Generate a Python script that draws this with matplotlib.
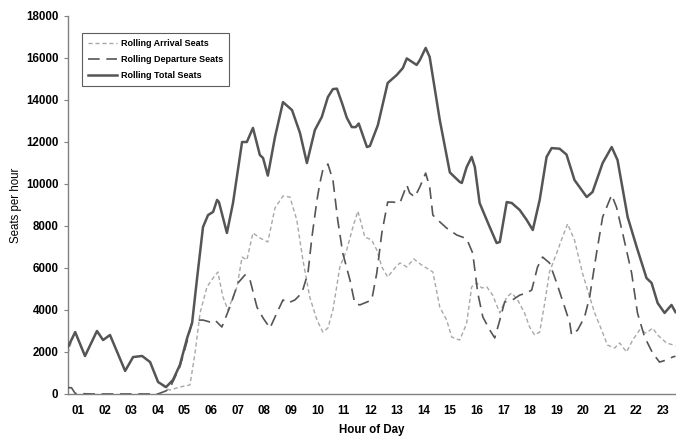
import matplotlib
matplotlib.use("Agg")
import matplotlib.pyplot as plt

plt.rcParams['font.family'] = ['Liberation Sans', 'DejaVu Sans']

# Hour positions (tick label "01" centred at 1, ... "23" at 23)
hour_labels = ["%02d" % h for h in range(1, 24)]
hour_ticks = list(range(1, 24))
y_ticks = list(range(0, 18001, 2000))

total_h = [0.62, 0.89, 1.26, 1.71, 1.94, 2.20, 2.77, 3.07, 3.41, 3.71, 4.01, 4.31, 4.57, 4.83,
           5.10, 5.29, 5.47, 5.70, 5.89, 6.08, 6.23, 6.30, 6.60, 6.83, 7.17, 7.35, 7.58, 7.84,
           7.96, 8.14, 8.41, 8.71, 9.05, 9.35, 9.61, 9.91, 10.17, 10.40, 10.59, 10.74, 10.93,
           11.11, 11.30, 11.45, 11.56, 11.87, 11.98, 12.28, 12.65, 12.99, 13.22, 13.37, 13.74,
           13.86, 14.08, 14.23, 14.61, 14.99, 15.36, 15.44, 15.62, 15.81, 15.93, 16.11, 16.30,
           16.49, 16.75, 16.87, 17.13, 17.32, 17.62, 17.88, 18.11, 18.37, 18.63, 18.82, 19.12,
           19.38, 19.68, 20.14, 20.36, 20.74, 21.08, 21.30, 21.68, 22.02, 22.39, 22.58, 22.81,
           23.07, 23.33, 23.48]
total_v = [2240, 2950, 1810, 3000, 2570, 2810, 1100, 1760, 1810, 1520, 570, 330, 670, 1380,
           2650, 3380, 5430, 7950, 8520, 8670, 9240, 9140, 7670, 9100, 12000, 12000, 12670, 11380,
           11240, 10400, 12240, 13900, 13520, 12430, 11000, 12570, 13190, 14140, 14520, 14540, 13860,
           13160, 12710, 12710, 12880, 11760, 11810, 12800, 14810, 15190, 15520, 15980, 15670,
           15900, 16480, 16050, 13050, 10550, 10100, 10050, 10800, 11290, 10810, 9095, 8520,
           7950, 7190, 7240, 9140, 9095, 8760, 8290, 7810, 9240, 11290, 11710, 11680,
           11400, 10190, 9380, 9620, 11000, 11760, 11140, 8430, 7000, 5520, 5290, 4330,
           3860, 4240, 3900]

dep_h = [0.62, 0.75, 0.89, 1.5, 4.0, 4.31, 4.46, 4.83, 5.10, 5.29, 5.47, 5.70, 5.96, 6.15,
         6.41, 6.71, 7.02, 7.28, 7.47, 7.73, 7.96, 8.22, 8.48, 8.71, 8.90, 9.16, 9.42, 9.65,
         9.80, 9.99, 10.10, 10.21, 10.40, 10.59, 10.77, 10.96, 11.23, 11.41, 11.60, 11.87,
         12.05, 12.24, 12.43, 12.65, 12.84, 13.11, 13.37, 13.48, 13.67, 13.86, 14.08, 14.23,
         14.35, 14.53, 14.87, 15.25, 15.62, 15.85, 16.04, 16.23, 16.49, 16.68, 16.87, 17.05,
         17.35, 17.62, 17.88, 18.07, 18.29, 18.48, 18.74, 19.01, 19.31, 19.50, 19.57, 19.80,
         20.06, 20.25, 20.51, 20.74, 21.08, 21.26, 21.49, 21.83, 22.05, 22.32, 22.62, 22.88,
         23.14, 23.37, 23.48]
dep_v = [300, 300, 30, 0, 0, 150, 290, 1300, 2500, 3430, 3520, 3520, 3430, 3520,
         3190, 4140, 5290, 5670, 5430, 4140, 3620, 3140, 3860, 4480, 4330, 4480, 4810, 5760,
         7480, 9240, 10050, 10670, 10950, 10190, 8290, 6710, 5430, 4330, 4240, 4380,
         4480, 5760, 7670, 9140, 9140, 9095, 9950, 9570, 9380, 9860, 10520, 9860,
         8520, 8290, 7900, 7570, 7400, 6710, 4810, 3670, 3050, 2670, 3520, 4380,
         4480, 4710, 4810, 4950, 6050, 6520, 6240, 5290, 4140, 3400, 2810, 3050,
         3670, 4620, 6710, 8430, 9480, 8900, 7670, 5760, 3860, 2710, 1950, 1520,
         1620, 1760, 1800]

arr_h = [0.62, 0.75, 0.89, 1.26, 1.71, 1.94, 2.20, 2.77, 3.07, 3.41, 3.71, 4.01, 4.08, 4.31,
         4.46, 4.83, 5.21, 5.40, 5.59, 5.85, 6.08, 6.26, 6.45, 6.64, 6.98, 7.17, 7.35, 7.58,
         7.84, 8.14, 8.41, 8.71, 8.97, 9.23, 9.46, 9.72, 9.99, 10.21, 10.40, 10.59, 10.85,
         11.11, 11.34, 11.53, 11.79, 12.05, 12.24, 12.43, 12.65, 12.92, 13.11, 13.37, 13.63,
         13.93, 14.35, 14.61, 14.87, 15.06, 15.36, 15.62, 15.81, 16.00, 16.19, 16.38, 16.60,
         16.87, 17.13, 17.32, 17.54, 17.80, 17.99, 18.18, 18.37, 18.56, 18.74, 19.01, 19.23,
         19.42, 19.68, 19.98, 20.25, 20.44, 20.70, 20.92, 21.19, 21.38, 21.64, 21.87, 22.13,
         22.39, 22.62, 22.81, 23.14, 23.48]
arr_v = [1940, 2500, 2920, 1810, 3000, 2570, 2810, 1100, 1760, 1810, 1520, 570, 520, 250,
         190, 333, 430, 1950, 3860, 5100, 5520, 5810, 4620, 4000, 5100, 6520, 6380, 7670,
         7430, 7240, 8860, 9430, 9380, 8290, 6380, 4600, 3520, 2950, 3140, 4000, 6050,
         6860, 7950, 8710, 7480, 7330, 6860, 6050, 5570, 6000, 6240, 6050, 6430,
         6140, 5810, 4140, 3520, 2710, 2570, 3350, 5100, 5290, 5050, 5100, 4710,
         3860, 4620, 4810, 4480, 3860, 3190, 2810, 2950, 4330, 5810, 6710, 7480,
         8100, 7330, 5760, 4620, 3860, 3050, 2330, 2190, 2430, 2000, 2570, 3050,
         2900, 3140, 2810, 2430, 2300]

fig = plt.figure(figsize=(6.76, 4.37), dpi=100)
ax = fig.add_axes([68/676, 1-394/437, 608/676, 378/437])

ax.plot(arr_h, arr_v, color='#a8a8a8', lw=1.0, dashes=(3, 2), label='Rolling Arrival Seats',
        zorder=2, solid_joinstyle='round', dash_joinstyle='round')
ax.plot(dep_h, dep_v, color='#555555', lw=1.2, dashes=(7, 4), label='Rolling Departure Seats',
        zorder=3, dash_joinstyle='round')
ax.plot(total_h, total_v, color='#555555', lw=1.8, label='Rolling Total Seats', zorder=4,
        solid_joinstyle='round')

ax.set_xlim(0.62, 23.5)
ax.set_ylim(0, 18000)
ax.set_xticks(hour_ticks)
ax.set_xticklabels(hour_labels)
ax.set_yticks(y_ticks)
ax.set_yticklabels([str(v) for v in y_ticks])

for s in ['top', 'right']:
    ax.spines[s].set_visible(False)
for s in ['left', 'bottom']:
    ax.spines[s].set_color('#808080')
    ax.spines[s].set_linewidth(1.0)

ax.tick_params(axis='x', length=0, pad=8, labelsize=8.3)
ax.tick_params(axis='y', length=3, width=0.8, color='#808080', direction='out', pad=4, labelsize=8.3)
for lbl in ax.get_xticklabels() + ax.get_yticklabels():
    lbl.set_fontweight('bold')

ax.set_xlabel('Hour of Day', fontsize=8.3, fontweight='bold', labelpad=5)
ax.set_ylabel('Seats per hour', fontsize=8.3, labelpad=3)

leg = ax.legend(loc='upper left', bbox_to_anchor=(0.023, 0.955), fontsize=6.5,
                frameon=True, fancybox=False, handlelength=3.2, borderpad=0.7,
                labelspacing=0.75, handletextpad=0.4, borderaxespad=0)
leg.get_frame().set_edgecolor('#333333')
leg.get_frame().set_linewidth(0.8)
for t in leg.get_texts():
    t.set_fontweight('bold')

fig.savefig('out.png', dpi=100)
